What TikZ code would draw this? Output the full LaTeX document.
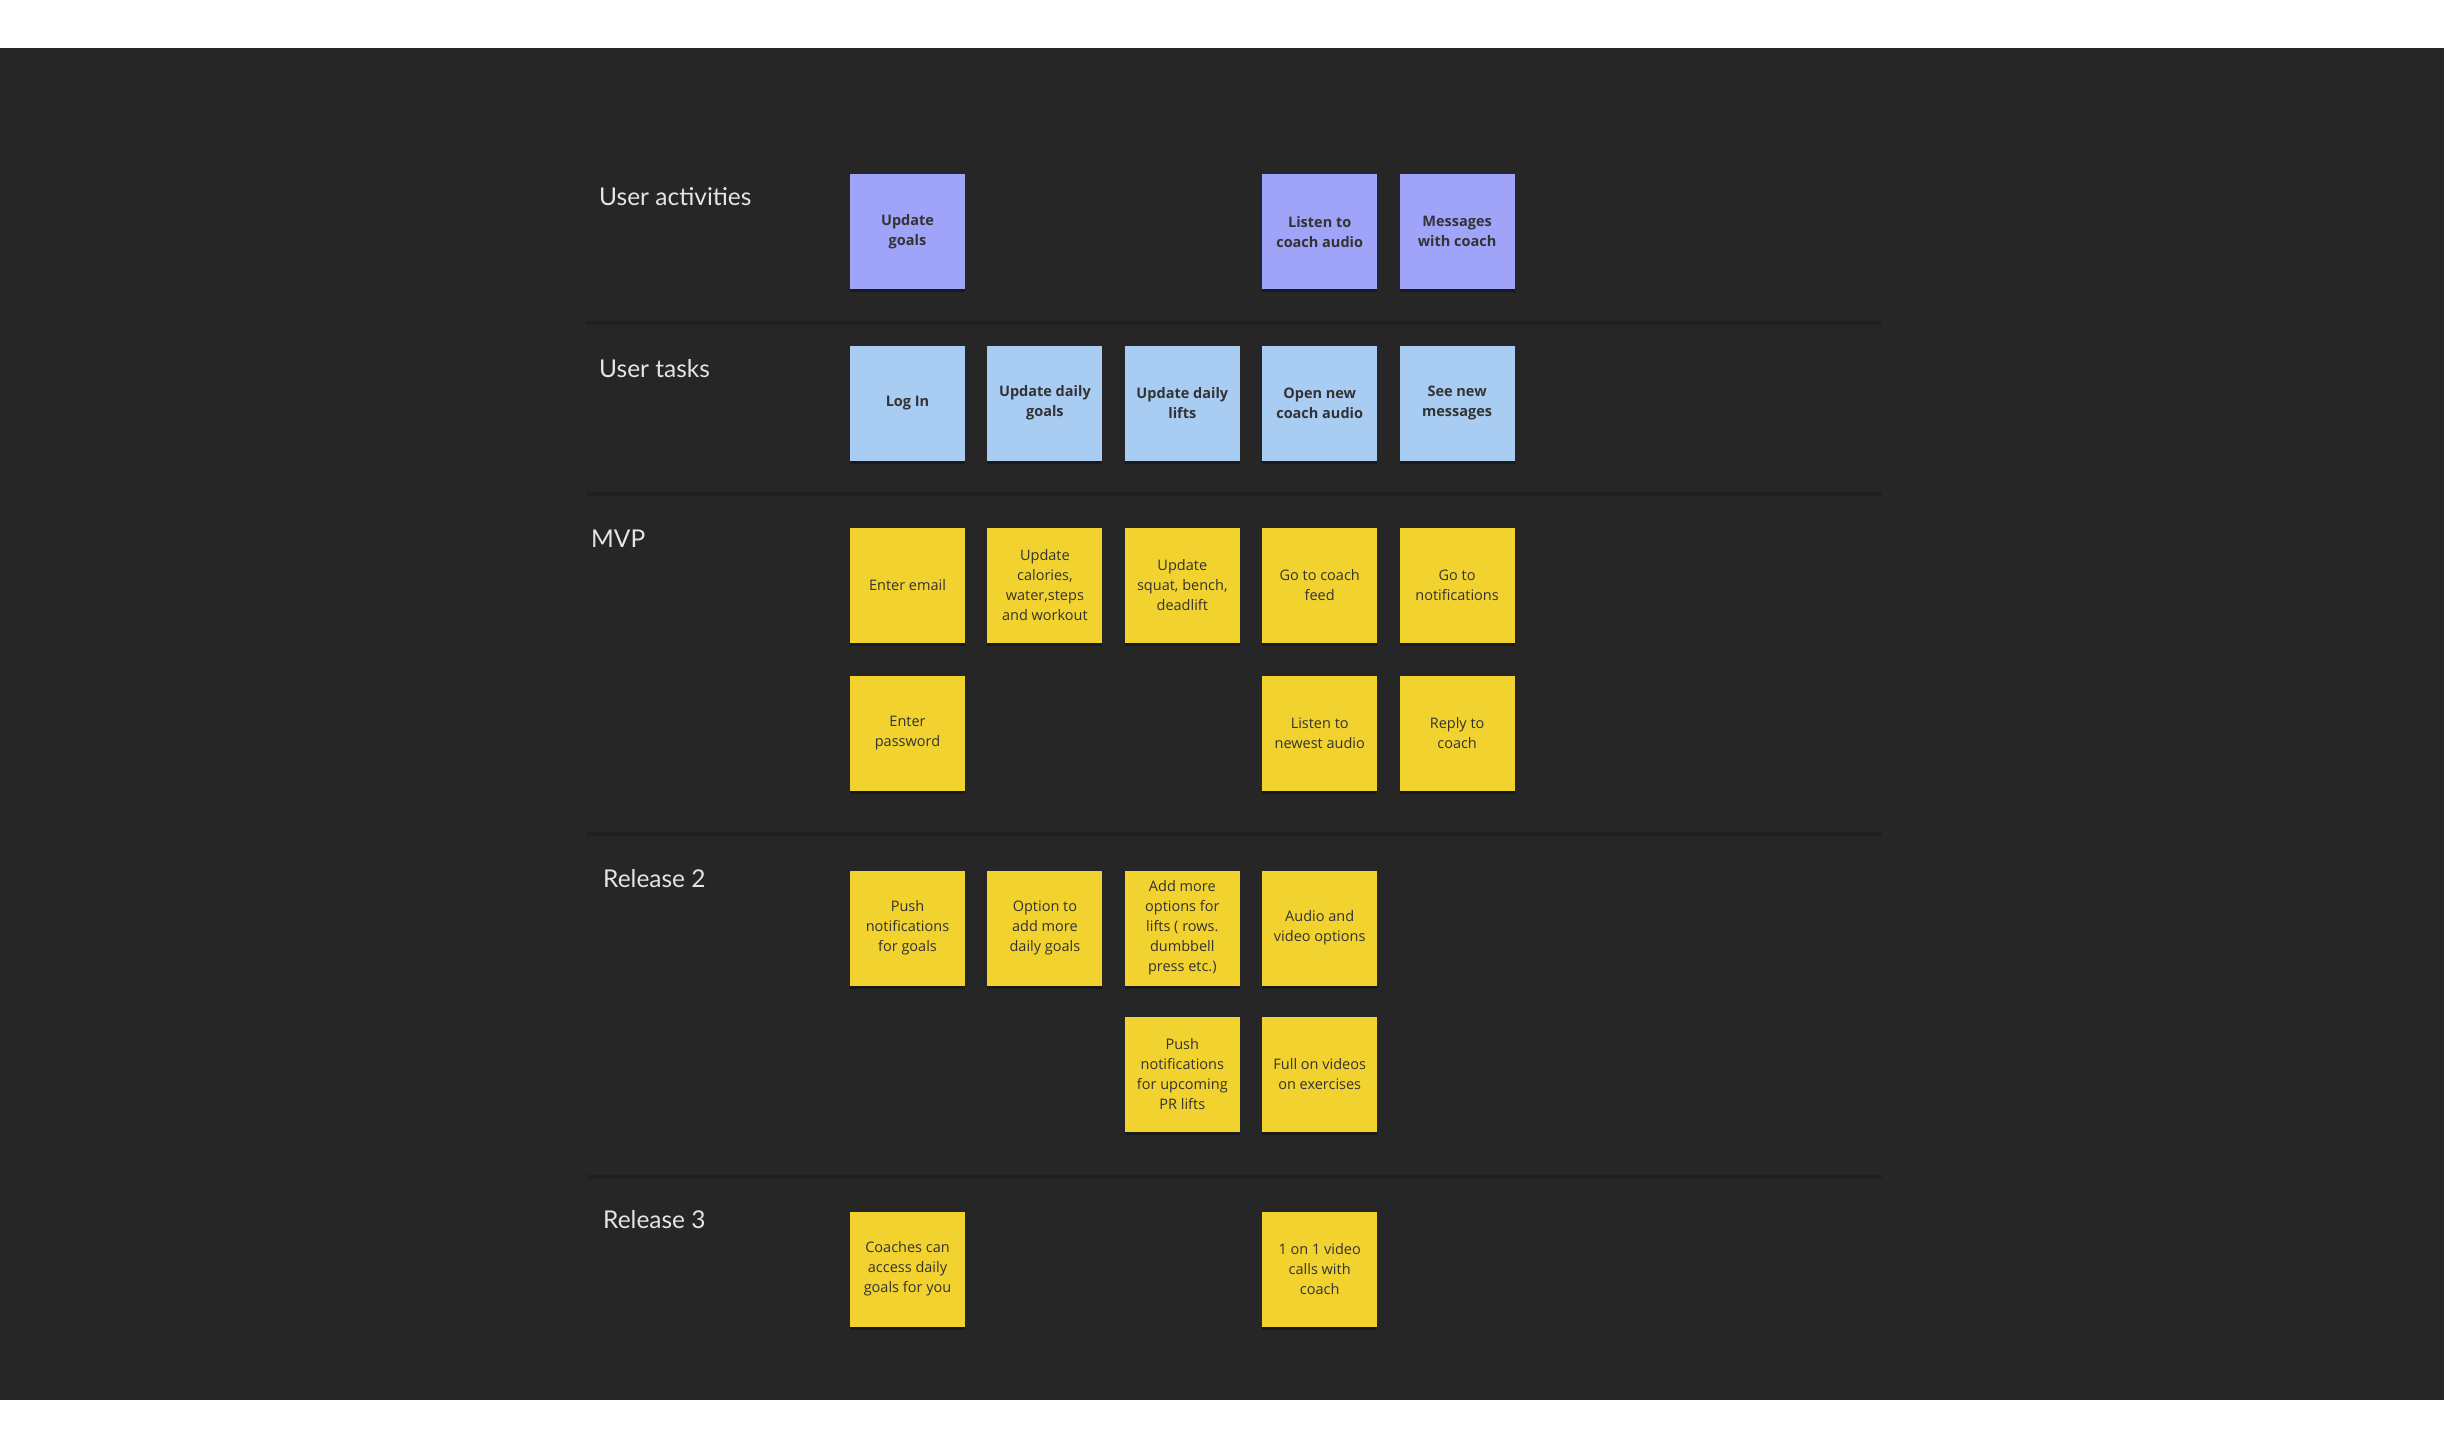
\documentclass[tikz,border=0pt]{standalone}
\usepackage{fontspec}
\setmainfont{Open Sans}
\newfontfamily\lanefont{Lato}
\usetikzlibrary{positioning,shadows}
\definecolor{boardbg}{HTML}{262626}
\definecolor{laneline}{HTML}{202020}
\definecolor{actpurple}{HTML}{A0A4F9}
\definecolor{taskblue}{HTML}{A9CCF3}
\definecolor{noteyellow}{HTML}{F2D22F}
\definecolor{notetext}{HTML}{333333}
\definecolor{lanetext}{HTML}{E4E4E4}

\begin{document}
\begin{tikzpicture}[
    x=1pt, y=-1pt,
    node distance=22pt,
    note/.style={minimum width=115pt, minimum height=115pt, inner sep=0pt, align=center, text=notetext,
      font=\fontsize{14.5}{20}\selectfont, drop shadow={shadow xshift=0pt, shadow yshift=-3pt, opacity=0.3, fill=black}},
    activity/.style={note, fill=actpurple, font=\fontsize{14.5}{20}\selectfont\bfseries},
    usertask/.style={note, fill=taskblue, font=\fontsize{14.5}{20}\selectfont\bfseries},
    story/.style={note, fill=noteyellow},
    lane/.style={anchor=base west, inner sep=0pt, text=lanetext, font=\lanefont\fontsize{24.5}{28}\selectfont},
    divider/.style={draw=laneline, line width=3.5pt}
  ]
    \useasboundingbox (0,0) rectangle (2444,1444);
    \fill[white] (0,0) rectangle (2444,1444);
    \fill[boardbg] (0,48) rectangle (2444,1400);

    % lane dividers
    \foreach \ly in {323,494,834,1177}
      \draw[divider] (586,\ly) -- (1882,\ly);

    % lane titles
    \node[lane] (lact) at (599,205) {User activities};
    \node[lane] (ltask) at (599,377) {User tasks};
    \node[lane] (lmvp) at (591,547) {MVP};
    \node[lane] (lrel2) at (603,887) {Release 2};
    \node[lane] (lrel3) at (603,1228) {Release 3};

    % backbone: user tasks
    \node[usertask] (login) at (907.5,403) {Log In};
    \node[usertask, right=of login] (dailygoals) {Update daily\\goals};
    \node[usertask, right=of dailygoals] (dailylifts) {Update daily\\lifts};
    \node[usertask, right=of dailylifts] (openaudio) {Open new\\coach audio};
    \node[usertask, right=of openaudio] (newmsg) {See new\\messages};

    % user activities
    \node[activity, above=56pt of login] (updgoals) {Update\\goals};
    \node[activity, above=56pt of openaudio] (listen) {Listen to\\coach audio};
    \node[activity, above=56pt of newmsg] (messages) {Messages\\with coach};

    % MVP
    \node[story] (email) at (907.5,585) {Enter email};
    \node[story, right=of email] (calories) {Update\\calories,\\water,steps\\and workout};
    \node[story, right=of calories] (squat) {Update\\squat, bench,\\deadlift};
    \node[story, right=of squat] (feed) {Go to coach\\feed};
    \node[story, right=of feed] (notif) {Go to\\notifications};
    \node[story, below=33pt of email] (password) {Enter\\password};
    \node[story, below=33pt of feed] (newest) {Listen to\\newest audio};
    \node[story, below=33pt of notif] (reply) {Reply to\\coach};

    % Release 2
    \node[story] (pushgoals) at (907.5,928) {Push\\notifications\\for goals};
    \node[story, right=of pushgoals] (moregoals) {Option to\\add more\\daily goals};
    \node[story, right=of moregoals] (morelifts) {Add more\\options for\\lifts ( rows.\\dumbbell\\press etc.)};
    \node[story, right=of morelifts] (audiovid) {Audio and\\video options};
    \node[story, below=31pt of morelifts] (pushpr) {Push\\notifications\\for upcoming\\PR lifts};
    \node[story, below=31pt of audiovid] (fullvid) {Full on videos\\on exercises};

    % Release 3
    \node[story] (coachaccess) at (907.5,1269) {Coaches can\\access daily\\goals for you};
    \node[story] (videocall) at (audiovid |- coachaccess) {1 on 1 video\\calls with\\coach};
  \end{tikzpicture}
\end{document}
